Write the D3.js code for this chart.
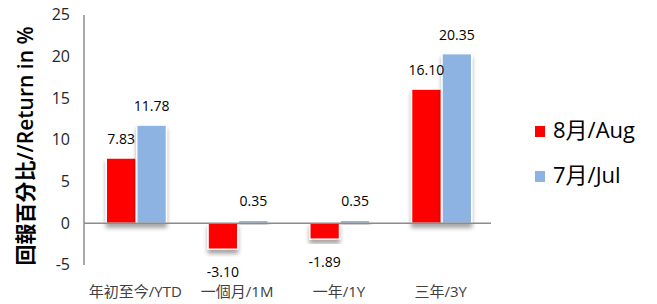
<!DOCTYPE html>
<html><head><meta charset="utf-8">
<script src="https://cdn.jsdelivr.net/npm/d3@7/dist/d3.min.js"></script>
<style>body{margin:0;background:#fff}svg{display:block}text{font-family:"Open Sans","Noto Sans CJK TC",sans-serif}</style>
</head><body>
<svg id="c" width="657" height="304"></svg>
<script>
const categories = ["年初至今/YTD", "一個月/1M", "一年/1Y", "三年/3Y"];
const seriesNames = ["8月/Aug", "7月/Jul"];
const aug = [7.83, -3.10, -1.89, 16.10];
const jul = [11.78, 0.35, 0.35, 20.35];
const colors = ["#ff0000", "#8db3e2"];
const yTicks = [-5, 0, 5, 10, 15, 20, 25];
const yTitle = "回報百分比//Return in %";

const svg = d3.select("#c");
const defs = svg.append("defs");
const f = defs.append("filter").attr("id","sh").attr("x","-30%").attr("y","-30%").attr("width","160%").attr("height","160%");
f.append("feDropShadow").attr("dx",0).attr("dy",4).attr("stdDeviation",2.2).attr("flood-color","#000").attr("flood-opacity",0.35);

const y = d3.scaleLinear().domain([-5, 25]).range([265, 15]);
const x0 = d3.scaleBand().domain(categories).range([85.5, 492.5]);
const x1 = d3.scaleBand().domain(seriesNames).range([0, 60]).paddingInner(0.03);
const axisX = 84, axisEnd = 491;

svg.append("line").attr("x1",axisX).attr("x2",axisX).attr("y1",y(25)).attr("y2",y(-5)).attr("stroke","#8c8c8c").attr("stroke-width",1.5);
svg.selectAll(".yt").data(yTicks).enter().append("text")
  .attr("x",70).attr("y",d=>y(d)+1).attr("text-anchor","end").attr("dominant-baseline","middle")
  .attr("font-size",16).attr("fill","#262626").text(d=>d);

const data = [aug, jul];
const groups = svg.selectAll(".g").data(categories).enter().append("g")
  .attr("transform",d=>`translate(${x0(d)+x0.bandwidth()/2-30},0)`);
groups.each(function(cat,i){
  const g = d3.select(this);
  seriesNames.forEach((s,k)=>{
    const v = data[k][i];
    g.append("rect").attr("x",x1(s)).attr("width",x1.bandwidth())
      .attr("y",y(Math.max(0,v))).attr("height",Math.abs(y(v)-y(0)))
      .attr("fill",colors[k]).attr("stroke","#fff").attr("stroke-width",1.3).attr("filter","url(#sh)");
  });
});
svg.append("line").attr("x1",axisX).attr("x2",axisEnd).attr("y1",y(0)).attr("y2",y(0)).attr("stroke","#8c8c8c").attr("stroke-width",1.5);

groups.each(function(cat,i){
  const g = d3.select(this);
  seriesNames.forEach((s,k)=>{
    const v = data[k][i];
    g.append("text").attr("x",x1(s)+x1.bandwidth()/2)
      .attr("y", v>=0 ? y(v)-18 : y(v)+24).attr("text-anchor","middle").attr("dominant-baseline","middle")
      .attr("font-size",14).attr("fill","#000").text(v.toFixed(2));
  });
});

svg.selectAll(".xl").data(categories).enter().append("text")
  .attr("x",d=>x0(d)+x0.bandwidth()/2-1).attr("y",293).attr("text-anchor","middle").attr("dominant-baseline","middle")
  .attr("font-size",15).attr("fill","#404040").text(d=>d);

svg.append("text").attr("transform","translate(27,146) rotate(-90)").attr("text-anchor","middle").attr("dominant-baseline","middle")
  .attr("font-size",21).attr("font-weight",600).attr("fill","#000").text(yTitle);

const lg = svg.selectAll(".lg").data(seriesNames).enter().append("g")
  .attr("transform",(d,i)=>`translate(535,${126+i*45})`);
lg.append("rect").attr("width",10).attr("height",11).attr("fill",(d,i)=>colors[i]);
lg.append("text").attr("x",18).attr("y",6).attr("dominant-baseline","middle").attr("font-size",22).attr("fill","#000").text(d=>d);
</script>
</body></html>
